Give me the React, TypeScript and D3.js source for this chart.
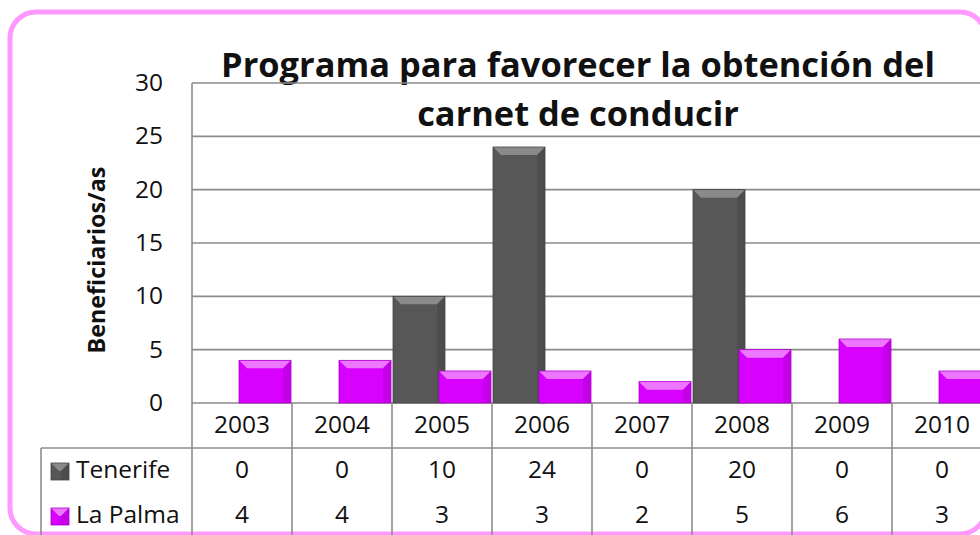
import React from "react";
import * as d3 from "d3";

const years = ["2003", "2004", "2005", "2006", "2007", "2008", "2009", "2010"];
const seriesNames = ["Tenerife", "La Palma"];
const tenerife = [0, 0, 10, 24, 0, 20, 0, 0];
const laPalma = [4, 4, 3, 3, 2, 5, 6, 3];
const yTicks = [0, 5, 10, 15, 20, 25, 30];
const titleLines = ["Programa para favorecer la obtención del", "carnet de conducir"];

const W = 980;
const H = 535;
const plotLeft = 192;
const plotTop = 83;
const plotBottom = 403;
const font = "'Open Sans', 'Noto Sans', sans-serif";
const gridColor = "#8c8c8c";
const fs = 24.5;

const palette = {
  Tenerife: { main: "#575757", top: "#8a8a8a", side: "#444444" },
  "La Palma": { main: "#d800ff", top: "#ee77ff", side: "#b000d0" },
};

const Bar = ({ x, y, w, h, c }) => {
  if (h <= 0) return null;
  const b = Math.min(8, h / 2, w / 2);
  return (
    <g>
      <rect x={x} y={y} width={w} height={h} fill={c.main} />
      <polygon
        points={`${x},${y} ${x + w},${y} ${x + w - b},${y + b} ${x + b},${y + b}`}
        fill={c.top}
      />
      <polygon
        points={`${x + w},${y} ${x + w - b},${y + b} ${x + w - b},${y + h} ${x + w},${y + h}`}
        fill={c.side}
        opacity={0.5}
      />
      <rect x={x} y={y} width={w} height={h} fill="none" stroke={c.side} strokeWidth={0.8} />
    </g>
  );
};

export default function App() {
  const x = d3.scaleBand().domain(years).range([plotLeft, plotLeft + 100 * years.length]).padding(0);
  const y = d3.scaleLinear().domain([0, 30]).range([plotBottom, plotTop]);
  const offset = d3.scalePoint().domain(seriesNames).range([1, 47]);
  const barW = 52;
  const values = { Tenerife: tenerife, "La Palma": laPalma };

  const headerBottom = 448;
  const rowBase = [478, 523];

  return (
    <svg width={W} height={H} style={{ position: "absolute", left: 0, top: 0 }}>
      <rect x={0} y={0} width={W} height={H} fill="#fff" />
      <rect x={10} y={12} width={976} height={522} rx={26} ry={26} fill="#fff" stroke="#ff99ff" strokeWidth={5} />

      {/* title */}
      {titleLines.map((t, i) => (
        <text key={t} x={578} y={77 + i * 49} textAnchor="middle" fontFamily={font} fontWeight="bold" fontSize={34.4} fill="#111">
          {t}
        </text>
      ))}

      {/* gridlines */}
      {yTicks.map((t) => (
        <g key={t}>
          <line x1={plotLeft} x2={W} y1={y(t)} y2={y(t)} stroke={gridColor} strokeWidth={1.6} />
          <text x={163} y={y(t) + 8} textAnchor="end" fontFamily={font} fontSize={fs} fill="#111">
            {t}
          </text>
        </g>
      ))}

      <text
        transform={`translate(105,260) rotate(-90)`}
        textAnchor="middle"
        fontFamily={font}
        fontWeight="bold"
        fontSize={23.3}
        fill="#111"
      >
        Beneficiarios/as
      </text>

      {/* bars */}
      {seriesNames.map((s) =>
        years.map((yr, i) => {
          const v = values[s][i];
          return (
            <Bar
              key={s + yr}
              x={x(yr) + offset(s)}
              y={y(v)}
              w={barW}
              h={y(0) - y(v)}
              c={palette[s]}
            />
          );
        })
      )}

      {/* data table */}
      <line x1={plotLeft} x2={plotLeft} y1={plotTop} y2={H} stroke={gridColor} strokeWidth={1.6} />
      {years.map((yr) => (
        <line key={"v" + yr} x1={x(yr) + x.bandwidth()} x2={x(yr) + x.bandwidth()} y1={plotBottom} y2={H} stroke={gridColor} strokeWidth={1.6} />
      ))}
      <line x1={41} x2={W} y1={headerBottom} y2={headerBottom} stroke={gridColor} strokeWidth={1.6} />
      <line x1={41} x2={41} y1={headerBottom} y2={H} stroke={gridColor} strokeWidth={1.6} />
      {years.map((yr) => (
        <text key={"h" + yr} x={x(yr) + x.bandwidth() / 2} y={433} textAnchor="middle" fontFamily={font} fontSize={fs} fill="#111">
          {yr}
        </text>
      ))}
      {seriesNames.map((s, r) => (
        <g key={"row" + s}>
          <Bar x={51} y={rowBase[r] - 15} w={18} h={17} c={palette[s]} />
          <text x={76} y={rowBase[r]} fontFamily={font} fontSize={fs} fill="#111">
            {s}
          </text>
          {years.map((yr, i) => (
            <text key={s + "c" + yr} x={x(yr) + x.bandwidth() / 2} y={rowBase[r]} textAnchor="middle" fontFamily={font} fontSize={fs} fill="#111">
              {values[s][i]}
            </text>
          ))}
        </g>
      ))}
    </svg>
  );
}
